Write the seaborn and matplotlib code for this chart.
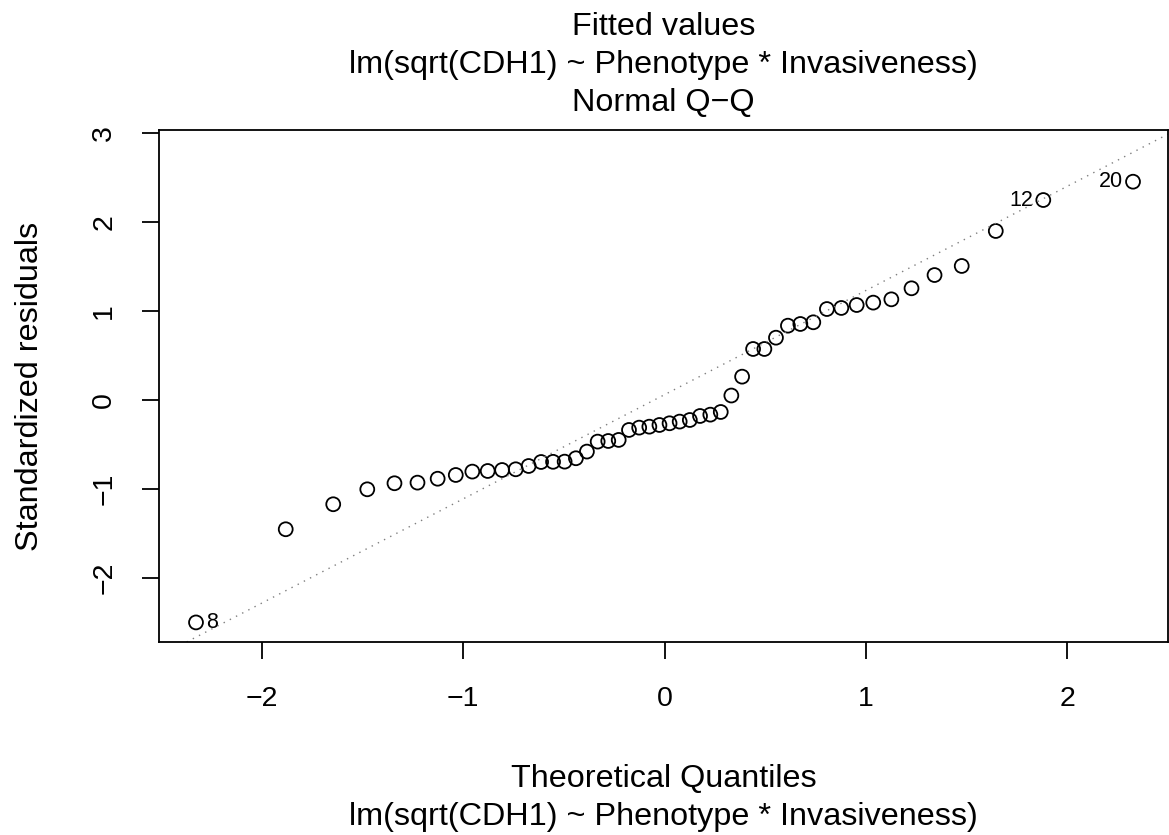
import numpy as np
import pandas as pd
import matplotlib
matplotlib.use("Agg")
import matplotlib.pyplot as plt
import seaborn as sns

# Theoretical normal quantiles (n = 50)
theoretical = [-2.3263, -1.8808, -1.6449, -1.4758, -1.3408, -1.2265, -1.1264, -1.0364,
               -0.9542, -0.8779, -0.8064, -0.7388, -0.6745, -0.6128, -0.5534, -0.4959,
               -0.4399, -0.3853, -0.3319, -0.2793, -0.2275, -0.1764, -0.1257, -0.0753,
               -0.0251, 0.0251, 0.0753, 0.1257, 0.1764, 0.2275, 0.2793, 0.3319,
               0.3853, 0.4399, 0.4959, 0.5534, 0.6128, 0.6745, 0.7388, 0.8064,
               0.8779, 0.9542, 1.0364, 1.1264, 1.2265, 1.3408, 1.4758, 1.6449,
               1.8808, 2.3263]
# Standardized residuals (sorted)
std_resid = [-2.50, -1.453, -1.172, -1.004, -0.936, -0.929, -0.885, -0.843,
             -0.805, -0.798, -0.787, -0.779, -0.742, -0.697, -0.695, -0.693,
             -0.655, -0.580, -0.468, -0.461, -0.449, -0.337, -0.311, -0.300,
             -0.281, -0.262, -0.243, -0.225, -0.180, -0.165, -0.135, 0.050,
             0.262, 0.573, 0.573, 0.700, 0.835, 0.854, 0.873, 1.022,
             1.034, 1.067, 1.094, 1.131, 1.255, 1.404, 1.506, 1.899,
             2.247, 2.453]
# Labelled observations: (index in sorted order, label, side)
id_points = [0, 48, 49]
id_labels = ["8", "12", "20"]
id_sides = ["right", "left", "left"]

x_ticks = [-2, -1, 0, 1, 2]
y_ticks = [-2, -1, 0, 1, 2, 3]

title_lines = ["Fitted values", "lm(sqrt(CDH1) ~ Phenotype * Invasiveness)", "Normal Q\u2212Q"]
xlabel_lines = ["Theoretical Quantiles", "lm(sqrt(CDH1) ~ Phenotype * Invasiveness)"]
ylabel = "Standardized residuals"

df = pd.DataFrame({"theoretical": theoretical, "resid": std_resid})

plt.rcParams["font.family"] = ["Liberation Sans", "DejaVu Sans"]
plt.rcParams["axes.unicode_minus"] = True

W, H = 1169, 835
fig = plt.figure(figsize=(W / 100, H / 100), dpi=100)
L, R, T, B = 159, 1168, 130, 642
ax = fig.add_axes([L / W, 1 - B / H, (R - L) / W, (B - T) / H])

sns.scatterplot(data=df, x="theoretical", y="resid", ax=ax, s=100, marker="o",
                facecolors="none", edgecolor="black", linewidth=1.3, legend=False)
for coll in ax.collections:
    coll.set_facecolor("none")
    coll.set_edgecolor("black")
    coll.set_linewidth(1.3)

# qqline through the quartiles
yq = np.quantile(df["resid"], [0.25, 0.75])
xq = np.array([-0.6745, 0.6745])
slope = (yq[1] - yq[0]) / (xq[1] - xq[0])
intercept = yq[0] - slope * xq[0]
ax.axline((0, intercept), slope=slope, color="#7f7f7f", lw=1.0,
          linestyle=(0, (1, 4)), zorder=1)

for idx, lab, side in zip(id_points, id_labels, id_sides):
    off = 7.5 if side == "right" else -7.5
    ax.annotate(lab, (df["theoretical"][idx], df["resid"][idx]),
                xytext=(off, 0), textcoords="offset points",
                ha="left" if side == "right" else "right", va="center",
                fontsize=15.5)

ax.set_xlim(-2.51, 2.50)
ax.set_ylim(-2.72, 3.034)
ax.set_xticks(x_ticks)
ax.set_yticks(y_ticks)
ax.set_xticklabels([f"{t:d}".replace("-", "\u2212") for t in x_ticks])
ax.set_yticklabels([f"{t:d}".replace("-", "\u2212") for t in y_ticks],
                   rotation=90, va="center")
ax.tick_params(axis="both", direction="out", length=12, width=1.3,
               labelsize=20.5, color="black")
ax.tick_params(axis="x", pad=20)
ax.tick_params(axis="y", pad=18)
for sp in ax.spines.values():
    sp.set_linewidth(1.3)
    sp.set_color("black")
ax.set_xlabel("")
ax.set_ylabel("")

FS = 23.3
cx = (L + R) / 2 / W
for line, base in zip(title_lines, [35, 73, 111]):
    fig.text(cx, 1 - base / H, line, ha="center", va="baseline", fontsize=FS)
for line, base in zip(xlabel_lines, [787, 825]):
    fig.text(cx, 1 - base / H, line, ha="center", va="baseline", fontsize=FS)
fig.text(38 / W, 1 - ((T + B) / 2) / H, ylabel, rotation=90, ha="center",
         va="baseline", fontsize=FS, rotation_mode="anchor")

fig.savefig("out.png", dpi=100)
